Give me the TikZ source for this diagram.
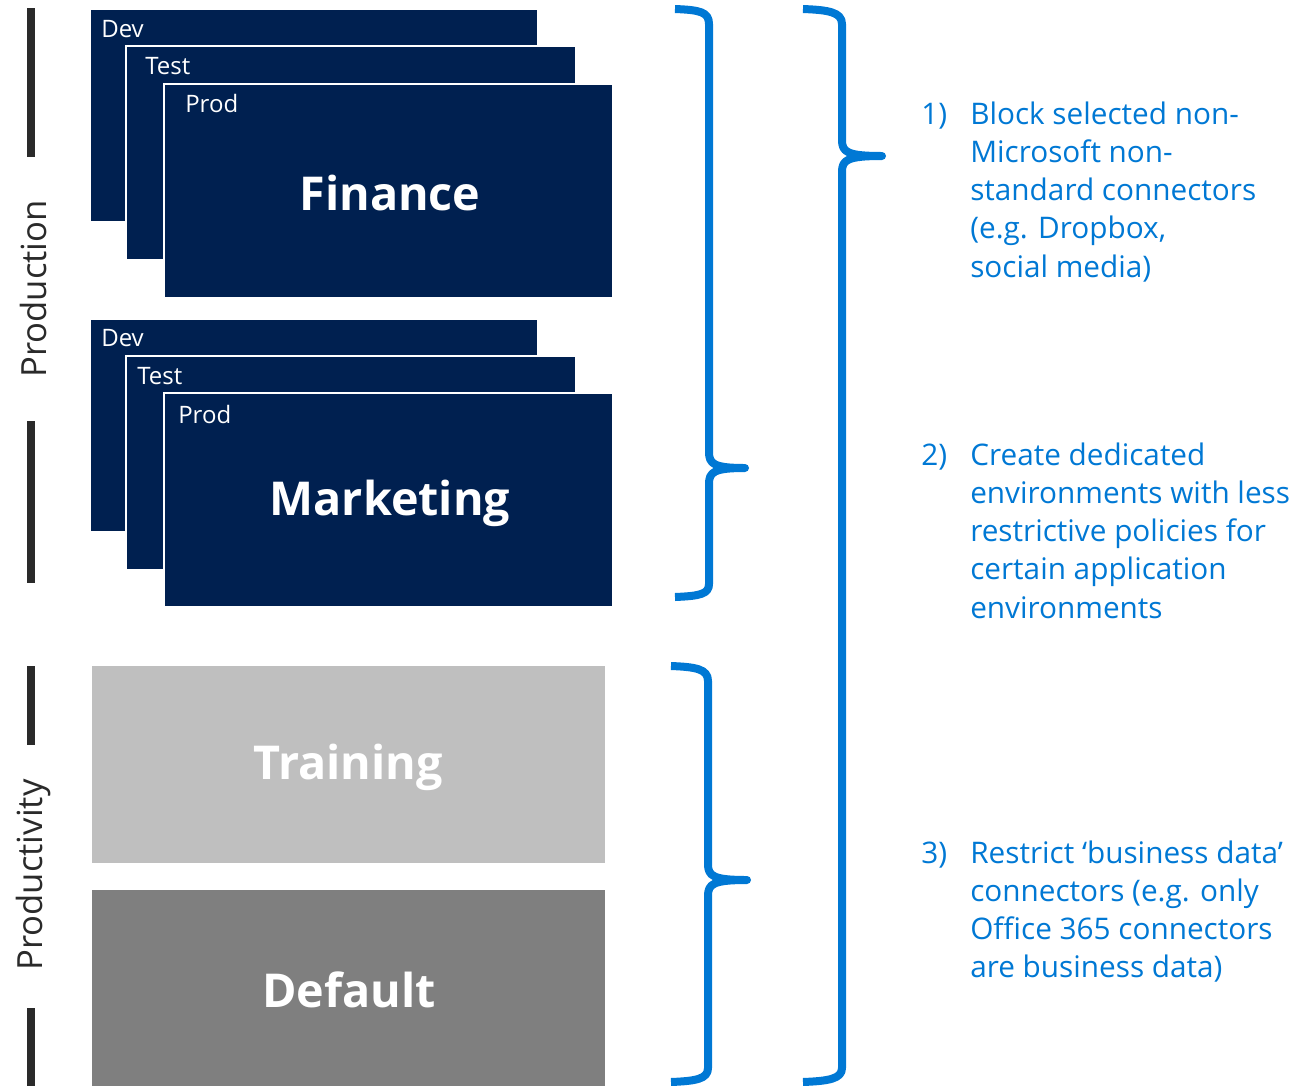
\documentclass[tikz,border=0pt]{standalone}
\usepackage{fontspec}
\setmainfont{Open Sans}
\usetikzlibrary{fit}
\definecolor{navy}{RGB}{0,32,80}
\definecolor{msblue}{RGB}{0,120,212}
\definecolor{lgray}{RGB}{191,191,191}
\definecolor{dgray}{RGB}{127,127,127}
\definecolor{barc}{RGB}{42,42,42}
\tikzset{
  envbox/.style={fill=navy, draw=white, line width=1.2pt, inner sep=0pt},
  plainbox/.style={inner sep=0pt, draw=none},
  sublabel/.style={text=white, font=\fontsize{18}{22}\selectfont, anchor=base west, inner sep=0pt},
  bigtitle/.style={text=white, font=\fontsize{35}{42}\selectfont\bfseries, inner sep=0pt},
  sidebar/.style={draw=barc, line width=6pt},
  sidelabel/.style={rotate=90, text=barc, font=\fontsize{26}{30}\selectfont, inner sep=0pt},
  bracepath/.style={draw=msblue, line width=6pt, line join=round},
  itemnum/.style={text=msblue, font=\fontsize{22.3}{28.7}\selectfont, anchor=north west, inner sep=0pt},
  itemtext/.style={text=msblue, font=\fontsize{22.3}{28.7}\selectfont, anchor=north west, inner sep=0pt, align=left},
}
\begin{document}
\begin{tikzpicture}[x=0.75pt,y=-0.75pt]
\useasboundingbox (0,0) rectangle (1297,1086);

% side bars and labels
\coordinate (b1t) at (31,8);   \coordinate (b1b) at (31,157);
\coordinate (b2t) at (31,421); \coordinate (b2b) at (31,583);
\coordinate (b3t) at (31,666); \coordinate (b3b) at (31,745);
\coordinate (b4t) at (31,1008); \coordinate (b4b) at (31,1086);
\draw[sidebar] (b1t) -- (b1b);
\draw[sidebar] (b2t) -- (b2b);
\draw[sidebar] (b3t) -- (b3b);
\draw[sidebar] (b4t) -- (b4b);
\node[sidelabel] (prodlabel) at (33,289) {Production};
\node[sidelabel] (productlabel) at (33,875) {Productivity};

% Finance stack
\node[envbox, fit={(90,9)(538,222)}] (fdev) {};
\node[envbox, fit={(126,46)(576,260)}] (ftest) {};
\node[envbox, fit={(164,84)(613,298)}] (fprod) {};
\node[sublabel] (fdevl) at (101,37) {Dev};
\node[sublabel] (ftestl) at (145,74) {Test};
\node[sublabel] (fprodl) at (185,112) {Prod};
\node[bigtitle] (finance) at (390,193) {Finance};

% Marketing stack
\node[envbox, fit={(90,319)(538,532)}] (mdev) {};
\node[envbox, fit={(126,356)(576,570)}] (mtest) {};
\node[envbox, fit={(164,393)(613,607)}] (mprod) {};
\node[sublabel] (mdevl) at (101,346) {Dev};
\node[sublabel] (mtestl) at (137,384) {Test};
\node[sublabel] (mprodl) at (178,423) {Prod};
\node[bigtitle] (marketing) at (390,503) {Marketing};

% Training / Default
\node[plainbox, fill=lgray, fit={(92,666)(605,863)}] (training) {};
\node[bigtitle] (trainingl) at (348,767) {Training};
\node[plainbox, fill=dgray, fit={(92,890)(605,1086)}] (default) {};
\node[bigtitle] (defaultl) at (349,990) {Default};

% braces
\draw[bracepath] (675,9) .. controls (700,10) and (709,12) .. (709,24) -- (709,452)
  .. controls (709,464) and (714,468) .. (745,468)
  .. controls (714,468) and (709,472) .. (709,484) -- (709,584)
  .. controls (709,594) and (700,596) .. (675,597);
\draw[bracepath] (803,9) .. controls (828,10) and (842,12) .. (842,24) -- (842,140)
  .. controls (842,152) and (847,156) .. (882,156)
  .. controls (847,156) and (842,160) .. (842,172) -- (842,1068)
  .. controls (842,1079) and (828,1081) .. (803,1082);
\draw[bracepath] (671,666) .. controls (696,667) and (708,669) .. (708,681) -- (708,864)
  .. controls (708,876) and (713,880) .. (747,880)
  .. controls (713,880) and (708,884) .. (708,896) -- (708,1068)
  .. controls (708,1079) and (696,1081) .. (671,1082);

% items
\node[itemnum] (n1) at (921,97) {\strut 1)};
\node[itemtext] (t1) at (970,97) {\strut Block selected non-\\Microsoft non-\\standard connectors\\(e.g. Dropbox,\\social media)};
\node[itemnum] (n2) at (921,438) {\strut 2)};
\node[itemtext] (t2) at (970,438) {\strut Create dedicated\\environments with less\\restrictive policies for\\certain application\\environments};
\node[itemnum] (n3) at (921,836) {\strut 3)};
\node[itemtext] (t3) at (970,836) {\strut Restrict ‘business data’\\connectors (e.g. only\\Office 365 connectors\\are business data)};
\end{tikzpicture}
\end{document}
